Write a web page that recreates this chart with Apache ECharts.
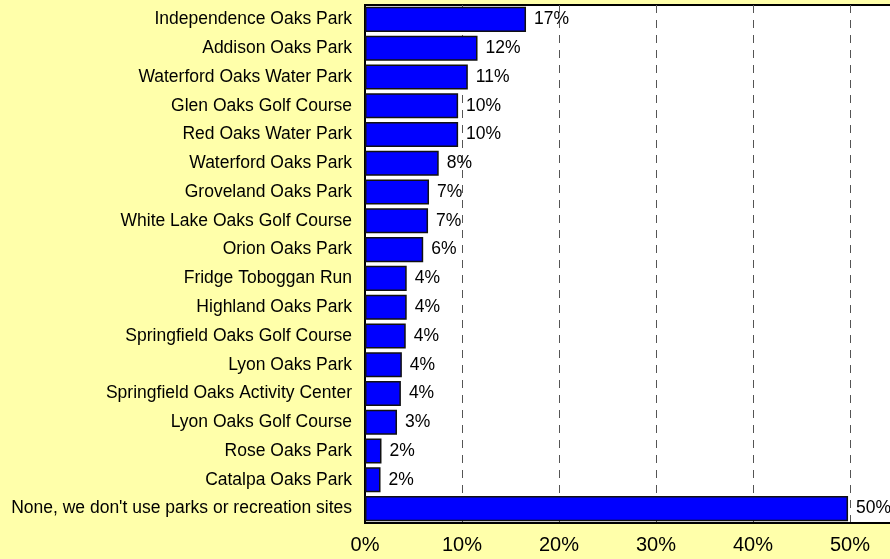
<!DOCTYPE html>
<html>
<head>
<meta charset="utf-8">
<script src="https://cdn.jsdelivr.net/npm/echarts@6/dist/echarts.min.js"></script>
<style>
html,body{margin:0;padding:0;background:#FFFFAA;}
#c{width:890px;height:559px;}
</style>
</head>
<body>
<div id="c"></div>
<script>
const categories = [
  "Independence Oaks Park",
  "Addison Oaks Park",
  "Waterford Oaks Water Park",
  "Glen Oaks Golf Course",
  "Red Oaks Water Park",
  "Waterford Oaks Park",
  "Groveland Oaks Park",
  "White Lake Oaks Golf Course",
  "Orion Oaks Park",
  "Fridge Toboggan Run",
  "Highland Oaks Park",
  "Springfield Oaks Golf Course",
  "Lyon Oaks Park",
  "Springfield Oaks Activity Center",
  "Lyon Oaks Golf Course",
  "Rose Oaks Park",
  "Catalpa Oaks Park",
  "None, we don't use parks or recreation sites"
];
const values = [16.6, 11.6, 10.6, 9.6, 9.6, 7.6, 6.6, 6.5, 6.0, 4.3, 4.3, 4.2, 3.8, 3.7, 3.3, 1.7, 1.6, 49.8];
const tickValues = [0, 10, 20, 30, 40, 50, 60];

const FONT = "'Liberation Sans', Arial, sans-serif";
const chart = echarts.init(document.getElementById('c'));
chart.setOption({
  backgroundColor: '#FFFFAA',
  animation: false,
  grid: {
    left: 365, top: 5, bottom: 36, right: -57,
    containLabel: false, outerBoundsMode: 'none',
    show: true, backgroundColor: '#FFFFFF', borderColor: '#000000', borderWidth: 2
  },
  xAxis: {
    type: 'value', min: tickValues[0], max: tickValues[tickValues.length - 1], interval: 10,
    axisLine: { show: true, lineStyle: { color: '#000', width: 2 } },
    axisTick: { show: false },
    axisLabel: { fontFamily: FONT, fontSize: 20, color: '#000', margin: 12, showMaxLabel: false,
      formatter: v => v + '%' },
    splitLine: { show: true, lineStyle: { color: '#555', width: 1, type: [8, 7] } }
  },
  yAxis: {
    type: 'category', data: categories, inverse: true,
    axisLine: { show: true, lineStyle: { color: '#000', width: 2 } },
    axisTick: { show: false },
    axisLabel: { fontFamily: FONT, fontSize: 17.5, color: '#000', margin: 13 }
  },
  series: [{
    type: 'bar', data: values, barCategoryGap: '13%',
    itemStyle: { color: '#0000FF', borderColor: '#111', borderWidth: 1.5 },
    label: {
      show: true, position: 'right', distance: 8,
      fontFamily: FONT, fontSize: 17.5, color: '#000',
      formatter: p => Math.round(p.value) + '%'
    }
  }]
});
</script>
</body>
</html>
